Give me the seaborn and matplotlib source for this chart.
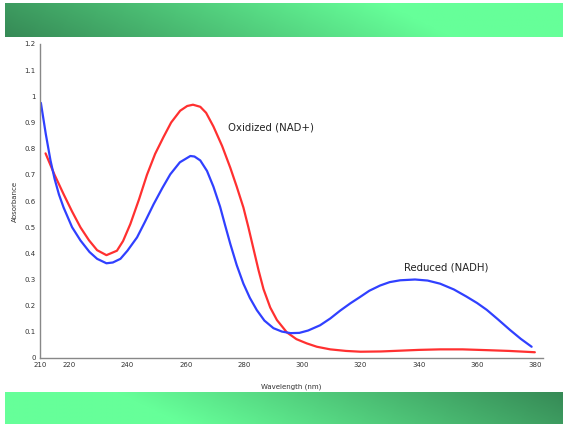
import numpy as np
import pandas as pd
import matplotlib
matplotlib.use("Agg")
import matplotlib.pyplot as plt
import seaborn as sns
from matplotlib.colors import LinearSegmentedColormap

# ---- data ----
nadh_wl = [210.3, 212, 213.6, 215, 216.5, 218.1, 221, 223.9, 227, 229.6, 232.8, 235, 237.6,
           240, 243.3, 246, 249, 252, 254.7, 258, 261.6, 263, 265, 267.3, 269.5,
           271.8, 273.5, 275.3, 277.5, 279.8, 282, 284.4, 287, 290.1, 293, 296,
           299, 302, 306.1, 309.6, 313, 316.5, 319.8, 323, 326.7, 330, 333.6,
           338.7, 343, 347.3, 352, 356.3, 360, 363.3, 367, 371.3, 375, 378.7]
nadh_abs = [0.975, 0.855, 0.755, 0.685, 0.625, 0.575, 0.50, 0.449, 0.405, 0.379, 0.362, 0.365, 0.379,
            0.41, 0.461, 0.52, 0.588, 0.65, 0.702, 0.748, 0.772, 0.770, 0.755, 0.715, 0.655,
            0.578, 0.508, 0.436, 0.355, 0.284, 0.23, 0.183, 0.143, 0.114, 0.101, 0.095,
            0.096, 0.105, 0.125, 0.151, 0.181, 0.209, 0.233, 0.257, 0.277, 0.29, 0.297,
            0.300, 0.296, 0.284, 0.262, 0.235, 0.21, 0.184, 0.149, 0.107, 0.073, 0.043]

nad_wl = [211.9, 215, 218.1, 221, 223.9, 226.8, 229.6, 232.8, 236.4, 238.5, 241, 244,
          246.7, 249.5, 252.4, 255, 258.1, 260.5, 262.5, 265, 267, 269.5, 272.5, 275.3,
          277.5, 279.8, 281.5, 283.3, 285, 286.7, 289, 291.3, 294.7, 298, 301.5, 305,
          309.6, 315, 320, 327, 333.6, 340, 347.3, 355, 363.3, 371, 379.8]
nad_abs = [0.782, 0.70, 0.626, 0.56, 0.499, 0.45, 0.412, 0.393, 0.41, 0.447, 0.512, 0.607,
           0.700, 0.780, 0.845, 0.900, 0.945, 0.963, 0.968, 0.960, 0.937, 0.885, 0.81, 0.727,
           0.655, 0.575, 0.50, 0.415, 0.335, 0.263, 0.193, 0.145, 0.098, 0.072, 0.056, 0.043,
           0.033, 0.027, 0.024, 0.025, 0.028, 0.031, 0.033, 0.033, 0.030, 0.027, 0.022]

x_ticks = [210, 220, 240, 260, 280, 300, 320, 340, 360, 380]
y_ticks = [0, 0.1, 0.2, 0.3, 0.4, 0.5, 0.6, 0.7, 0.8, 0.9, 1.0, 1.1, 1.2]
y_tick_labels = ["0", "0.1", "0.2", "0.3", "0.4", "0.5", "0.6", "0.7", "0.8", "0.9", "1", "1.1", "1.2"]

df = pd.concat([
    pd.DataFrame({"Wavelength": nad_wl, "Absorbance": nad_abs, "Form": "Oxidized (NAD+)"}),
    pd.DataFrame({"Wavelength": nadh_wl, "Absorbance": nadh_abs, "Form": "Reduced (NADH)"}),
])

sns.set_style("white")
plt.rcParams["font.family"] = ["DejaVu Sans"]

W, H = 563, 424
fig = plt.figure(figsize=(W / 100, H / 100), dpi=100)

# ---- gradient banners ----
dark = np.array([0x36, 0x8A, 0x56]) / 255
light = np.array([0x66, 0xFF, 0x99]) / 255
cmap = LinearSegmentedColormap.from_list("g", [dark, light])
gx, gy = np.meshgrid(np.linspace(0, 1, 300), np.linspace(0, 1, 40))
grad_top = np.clip((gx * 1.0 + (1 - gy) * 0.12) / 0.8, 0, 1)
bax = fig.add_axes([5 / W, 1 - 37 / H, 1 - 5 / W, 34 / H])
bax.imshow(grad_top, cmap=cmap, aspect="auto", origin="upper", vmin=0, vmax=1)
bax.axis("off")
grad_bot = np.clip(((1 - gx) * 1.0 + gy * 0.12) / 0.8, 0, 1)
bax2 = fig.add_axes([5 / W, 0, 1 - 5 / W, 32 / H])
bax2.imshow(grad_bot, cmap=cmap, aspect="auto", origin="upper", vmin=0, vmax=1)
bax2.axis("off")

# ---- main axes ----
ax = fig.add_axes([40 / W, 1 - 358 / H, (543 - 40) / W, (358 - 44) / H])
sns.lineplot(data=df, x="Wavelength", y="Absorbance", hue="Form",
             palette={"Oxidized (NAD+)": "#ff3030", "Reduced (NADH)": "#3040ff"},
             estimator=None, sort=False, linewidth=1.6, legend=False, ax=ax,
             solid_joinstyle="round", solid_capstyle="round")

ax.set_xlim(210, 382.6)
ax.set_ylim(0, 1.2)
ax.set_xticks(x_ticks)
ax.set_xticklabels([str(t) for t in x_ticks])
ax.set_yticks(y_ticks)
ax.set_yticklabels(y_tick_labels)
ax.tick_params(axis="both", direction="inout", length=4, width=0.6, color="#777777",
               labelsize=5, labelcolor="#333333", pad=1)
for s in ["top", "right"]:
    ax.spines[s].set_visible(False)
for s in ["left", "bottom"]:
    ax.spines[s].set_color("#888888")
    ax.spines[s].set_linewidth(1.0)
ax.set_xlabel("Wavelength (nm)", fontsize=5, color="#333333", labelpad=11)
ax.set_ylabel("Absorbance", fontsize=5, color="#333333", labelpad=5)
ax.set_facecolor("white")

ax.text(228 / W, 1 - 128 / H, "Oxidized (NAD+)", transform=fig.transFigure,
        fontsize=7.3, color="#222222", va="center", ha="left")
ax.text(404 / W, 1 - 268 / H, "Reduced (NADH)", transform=fig.transFigure,
        fontsize=7.3, color="#222222", va="center", ha="left")

fig.savefig("out.png", dpi=100, facecolor="white")
